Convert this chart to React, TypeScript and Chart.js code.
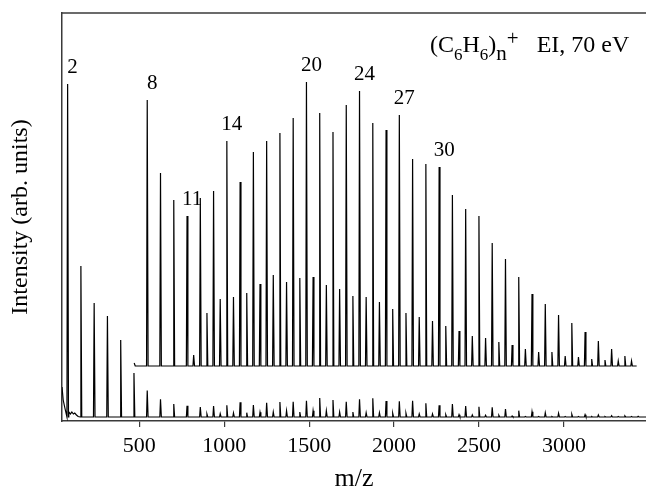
import React, { useEffect, useRef } from "react";
import { Chart, registerables } from "chart.js";

Chart.register(...registerables);

const SERIF = '"Liberation Serif", "Times New Roman", Times, serif';
const FRAME = "#3a3a3a";

// benzene monomer mass (m/z spacing of the cluster series)
const C6H6_MASS = 78.11;

// axis ranges
const X_MIN = 45;
const X_MAX = 3483;
const Y_MIN = 0;
const Y_MAX = 408;
const xTicks = [500, 1000, 1500, 2000, 2500, 3000];

// ---- full-scale spectrum (lower trace) ----
const lowBaseline = 4;
const lowMainN = [
  1, 2, 3, 4, 5, 6, 7, 8, 9, 10, 11, 12, 13, 14, 15, 16, 17, 18, 19, 20, 21, 22,
  23, 24, 25, 26, 27, 28, 29, 30, 31, 32, 33, 34, 35, 36, 37, 38, 39, 40, 41, 42,
  43, 44,
];
const lowMainI = [
  333, 151, 114, 101, 77, 44, 26.5, 17.7, 13, 11.3, 10, 11, 11.7, 14.7, 12, 14.3,
  15, 15.3, 16.3, 19, 17, 15.3, 17.7, 18.7, 16, 15.7, 16.3, 13.7, 11.7, 13, 11,
  10.3, 9.7, 8, 6.3, 5.3, 4.3, 3.7, 2.7, 2.3, 2, 1.3, 1, 0.7,
];
const lowMinorN = [
  11.5, 12.5, 13.5, 14.5, 15.5, 16.5, 17.5, 18.5, 19.5, 20.5, 21.5, 22.5, 23.5,
  24.5, 25.5, 26.5, 27.5, 28.5, 29.5, 30.5, 31.5, 32.5, 33.5, 34.5, 35.5, 36.5,
  37.5, 38.5, 39.5, 40.5, 41.5, 42.5, 43.5,
];
const lowMinorI = [
  3, 3.3, 4, 4.3, 4.7, 5, 6.3, 5, 6.3, 6.3, 5, 5, 4.3, 4.3, 3.7, 3.7, 3, 3, 2.3,
  2.3, 2, 1.7, 1.7, 1, 0.6, 0.6, 0.5, 0.5, 0.5, 0.5, 0.5, 0.5, 0.5,
];
const lowNoiseMz = [45, 52, 62, 85, 95, 103, 112, 120, 130, 140];
const lowNoiseI = [30, 17, 9, 5, 3, 5, 3, 4, 2, 0.5];
const lowEndMz = 3490;

// ---- magnified spectrum (upper, offset trace) ----
const highBaseline = 55;
const highMainN = [
  7, 8, 9, 10, 11, 12, 13, 14, 15, 16, 17, 18, 19, 20, 21, 22, 23, 24, 25, 26, 27,
  28, 29, 30, 31, 32, 33, 34, 35, 36, 37, 38, 39, 40, 41, 42, 43,
];
const highMainI = [
  266, 193, 166, 150, 168, 175, 225, 184, 214, 225, 233, 248, 284, 253, 234, 261,
  275, 243, 236, 251, 207, 202, 199, 171, 157, 150, 123, 107, 89, 72, 62, 51, 43,
  34, 25, 17, 10,
];
const highMinorN = [
  10.5, 11.5, 12.5, 13.5, 14.5, 15.5, 16.5, 17.5, 18.5, 19.5, 20.5, 21.5, 22.5,
  23.5, 24.5, 25.5, 26.5, 27.5, 28.5, 29.5, 30.5, 31.5, 32.5, 33.5, 34.5, 35.5,
  36.5, 37.5, 38.5, 39.5, 40.5, 41.5, 42.5, 43.5,
];
const highMinorI = [
  11, 53, 67, 69, 73, 82, 91, 84, 88, 89, 81, 77, 70, 69, 64, 57, 53, 49, 45, 40,
  35, 30, 28, 24, 21, 17, 14, 14, 10, 9, 7, 6, 5, 5,
];
const highStartMz = [470, 476];
const highStartI = [3, 0];
const highEndMz = 3428;

// peak annotations (cluster size n)
const peakLabels = ["2", "8", "11", "14", "20", "24", "27", "30"];

type Pt = { x: number; y: number };

function buildTrace(
  mainN: number[],
  mainI: number[],
  minorN: number[],
  minorI: number[],
  startMz: number[],
  startI: number[],
  endMz: number,
  baseline: number
): Pt[] {
  const pts: Pt[] = [];
  startMz.forEach((m, i) => pts.push({ x: m, y: baseline + startI[i] }));
  const addPeak = (m: number, h: number) => {
    pts.push({ x: m - 4, y: baseline });
    pts.push({ x: m, y: baseline + h });
    pts.push({ x: m + 5, y: baseline });
  };
  mainN.forEach((n, i) => addPeak(n * C6H6_MASS, mainI[i]));
  minorN.forEach((n, i) => addPeak(n * C6H6_MASS, minorI[i]));
  pts.push({ x: endMz, y: baseline });
  pts.sort((a, b) => a.x - b.x);
  return pts;
}

const annotate = {
  id: "annotate",
  afterDatasetsDraw(chart: any) {
    const { ctx, chartArea, scales } = chart;
    const x = scales.x;
    const y = scales.y;
    ctx.save();
    // top frame line
    ctx.strokeStyle = FRAME;
    ctx.lineWidth = 1.5;
    ctx.beginPath();
    ctx.moveTo(chartArea.left, chartArea.top);
    ctx.lineTo(chartArea.right, chartArea.top);
    ctx.stroke();

    // peak labels
    ctx.fillStyle = "#000";
    ctx.font = `21px ${SERIF}`;
    ctx.textAlign = "center";
    ctx.textBaseline = "alphabetic";
    peakLabels.forEach((lab) => {
      const k = Number(lab) - 1;
      let top: number;
      const hi = highMainN.indexOf(k);
      if (hi >= 0) top = highBaseline + highMainI[hi];
      else top = lowBaseline + lowMainI[lowMainN.indexOf(k)];
      const px = x.getPixelForValue(k * C6H6_MASS);
      const py = y.getPixelForValue(top);
      ctx.fillText(lab, px + 5, py - 11);
    });

    // formula text
    const parts: { t: string; size: number; dy: number }[] = [
      { t: "(C", size: 24, dy: 0 },
      { t: "6", size: 17, dy: 8 },
      { t: "H", size: 24, dy: 0 },
      { t: "6", size: 17, dy: 8 },
      { t: ")", size: 24, dy: 0 },
      { t: "n", size: 21, dy: 8 },
      { t: "+", size: 21, dy: -7 },
      { t: "   EI, 70 eV", size: 24, dy: 0 },
    ];
    ctx.textAlign = "left";
    let cx = chartArea.left + 368;
    const base = chartArea.top + 39;
    parts.forEach((p) => {
      ctx.font = `${p.size}px ${SERIF}`;
      ctx.fillText(p.t, cx, base + p.dy);
      cx += ctx.measureText(p.t).width;
    });
    ctx.restore();
  },
};

export default function App() {
  const ref = useRef<HTMLCanvasElement | null>(null);

  useEffect(() => {
    if (!ref.current) return;
    const lowPts = buildTrace(
      lowMainN, lowMainI, lowMinorN, lowMinorI, lowNoiseMz, lowNoiseI, lowEndMz, lowBaseline
    );
    const highPts = buildTrace(
      highMainN, highMainI, highMinorN, highMinorI, highStartMz, highStartI, highEndMz, highBaseline
    );
    const chart = new Chart(ref.current, {
      type: "line",
      data: {
        datasets: [
          {
            label: "full scale",
            data: lowPts,
            borderColor: "#000",
            borderWidth: 1.2,
            pointRadius: 0,
            tension: 0,
            fill: false,
          },
          {
            label: "magnified",
            data: highPts,
            borderColor: "#000",
            borderWidth: 1.2,
            pointRadius: 0,
            tension: 0,
            fill: false,
          },
        ],
      },
      options: {
        animation: false,
        responsive: false,
        maintainAspectRatio: false,
        events: [],
        layout: { padding: { top: 13, left: 0, right: 0, bottom: 0 } },
        plugins: { legend: { display: false }, tooltip: { enabled: false } },
        scales: {
          x: {
            type: "linear",
            min: X_MIN,
            max: X_MAX,
            position: "bottom",
            afterBuildTicks: (s: any) => {
              s.ticks = xTicks.map((v) => ({ value: v }));
            },
            afterFit: (s: any) => {
              s.height = 75;
            },
            ticks: {
              font: { family: SERIF, size: 22 },
              color: "#000",
              padding: 6,
              maxRotation: 0,
              autoSkip: false,
              callback: (v: any) => String(v),
            },
            grid: {
              display: true,
              drawOnChartArea: false,
              drawTicks: true,
              tickLength: 6,
              color: FRAME,
              lineWidth: 1.2,
            },
            border: { display: true, color: FRAME, width: 1.5 },
            title: {
              display: true,
              text: "m/z",
              font: { family: SERIF, size: 26 },
              color: "#000",
              padding: { top: 0, bottom: 1 },
            },
          },
          y: {
            type: "linear",
            min: Y_MIN,
            max: Y_MAX,
            afterFit: (s: any) => {
              s.width = 62;
            },
            ticks: { display: false },
            grid: { display: false },
            border: { display: true, color: FRAME, width: 1.5 },
            title: {
              display: true,
              text: "Intensity (arb. units)",
              font: { family: SERIF, size: 24 },
              color: "#000",
              padding: { top: 6, bottom: 0 },
            },
          },
        },
      },
      plugins: [annotate],
    });
    return () => chart.destroy();
  }, []);

  return (
    <div
      style={{
        position: "fixed",
        left: 0,
        top: 0,
        width: 646,
        height: 496,
        overflow: "hidden",
        background: "#fff",
      }}
    >
      <canvas
        ref={ref}
        width={646}
        height={496}
        style={{ display: "block", width: 646, height: 496 }}
      />
    </div>
  );
}
